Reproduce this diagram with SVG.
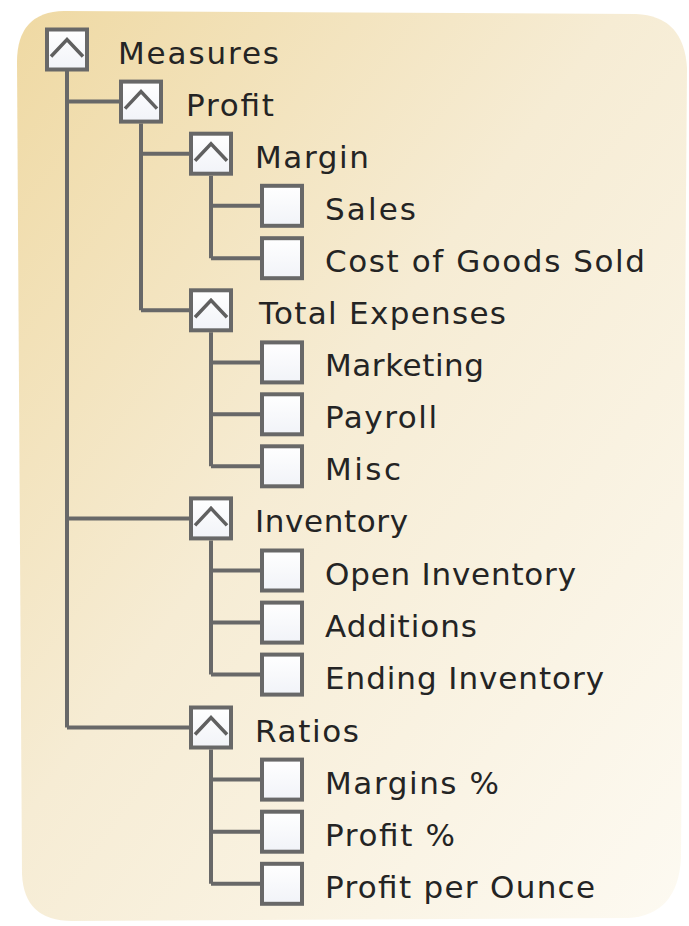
<svg xmlns="http://www.w3.org/2000/svg" width="689" height="926" viewBox="0 0 689 926">
<defs>
<linearGradient id="bg" x1="0" y1="0" x2="1" y2="1">
<stop offset="0" stop-color="#efd9a3"/>
<stop offset="0.45" stop-color="#f6ecd4"/>
<stop offset="1" stop-color="#fdfaf2"/>
</linearGradient>
<linearGradient id="boxfill" x1="0" y1="0" x2="0" y2="1">
<stop offset="0" stop-color="#ffffff"/>
<stop offset="1" stop-color="#f1f3f8"/>
</linearGradient>
<style>
.box{fill:url(#boxfill);stroke:#686868;stroke-width:4}
.chev{fill:none;stroke:#606060;stroke-width:3.5;stroke-linejoin:miter}
.ln{fill:none;stroke:#686868;stroke-width:4}
.t{font-family:"DejaVu Sans","Liberation Sans",sans-serif;font-size:31px;fill:#242424}
</style>
</defs>
<rect width="689" height="926" fill="#ffffff"/>
<path d="M17,62 Q17,12 64,11 L636,14 Q684,16 687,68 L681,858 Q678,915 628,918 L72,921 Q24,921 22,874 Z" fill="url(#bg)"/>
<g id="connectors">
<path class="ln" d="M67,71 V727.5 M67,101.6 H119 M67,518.4 H189 M67,727.5 H189"/>
<path class="ln" d="M141,123.6 V310.3 M141,153.7 H189 M141,310.3 H189"/>
<path class="ln" d="M211,175.7 V258.2 M211,205.8 H260 M211,258.2 H260"/>
<path class="ln" d="M211,332.3 V466.3 M211,362.4 H260 M211,414.3 H260 M211,466.3 H260"/>
<path class="ln" d="M211,540.4 V674.6 M211,570.5 H260 M211,622.6 H260 M211,674.6 H260"/>
<path class="ln" d="M211,749.5 V883.8 M211,779.6 H260 M211,831.7 H260 M211,883.8 H260"/>
</g>
<g id="measures"><rect class="box" x="47" y="29.5" width="40" height="40"/><path class="chev" d="M51,56.5 L67,39.5 L83,56.5"/><text class="t" x="118" y="63.5" textLength="161">Measures</text></g>
<g id="profit"><rect class="box" x="121" y="81.6" width="40" height="40"/><path class="chev" d="M125,108.6 L141,91.6 L157,108.6"/><text class="t" x="186" y="115.6" textLength="88">Profit</text></g>
<g id="margin"><rect class="box" x="191" y="133.7" width="40" height="40"/><path class="chev" d="M195,160.7 L211,143.7 L227,160.7"/><text class="t" x="255" y="167.7" textLength="114">Margin</text></g>
<g id="sales"><rect class="box" x="262" y="185.8" width="40" height="40"/><text class="t" x="325" y="219.8" textLength="91">Sales</text></g>
<g id="cogs"><rect class="box" x="262" y="238.2" width="40" height="40"/><text class="t" x="325" y="272.2" textLength="320">Cost of Goods Sold</text></g>
<g id="total-expenses"><rect class="box" x="191" y="290.3" width="40" height="40"/><path class="chev" d="M195,317.3 L211,300.3 L227,317.3"/><text class="t" x="259" y="324.3" textLength="247">Total Expenses</text></g>
<g id="marketing"><rect class="box" x="262" y="342.4" width="40" height="40"/><text class="t" x="325" y="376.4" textLength="159">Marketing</text></g>
<g id="payroll"><rect class="box" x="262" y="394.3" width="40" height="40"/><text class="t" x="325" y="428.3" textLength="112">Payroll</text></g>
<g id="misc"><rect class="box" x="262" y="446.3" width="40" height="40"/><text class="t" x="325" y="480.3" textLength="76">Misc</text></g>
<g id="inventory"><rect class="box" x="191" y="498.4" width="40" height="40"/><path class="chev" d="M195,525.4 L211,508.4 L227,525.4"/><text class="t" x="255" y="532.4" textLength="153">Inventory</text></g>
<g id="open-inventory"><rect class="box" x="262" y="550.5" width="40" height="40"/><text class="t" x="325" y="584.5" textLength="251">Open Inventory</text></g>
<g id="additions"><rect class="box" x="262" y="602.6" width="40" height="40"/><text class="t" x="325" y="636.6" textLength="152">Additions</text></g>
<g id="ending-inventory"><rect class="box" x="262" y="654.6" width="40" height="40"/><text class="t" x="325" y="688.6" textLength="279">Ending Inventory</text></g>
<g id="ratios"><rect class="box" x="191" y="707.5" width="40" height="40"/><path class="chev" d="M195,734.5 L211,717.5 L227,734.5"/><text class="t" x="255" y="741.5" textLength="104">Ratios</text></g>
<g id="margins-pct"><rect class="box" x="262" y="759.6" width="40" height="40"/><text class="t" x="325" y="793.6" textLength="174">Margins %</text></g>
<g id="profit-pct"><rect class="box" x="262" y="811.7" width="40" height="40"/><text class="t" x="325" y="845.7" textLength="130">Profit %</text></g>
<g id="profit-per-ounce"><rect class="box" x="262" y="863.8" width="40" height="40"/><text class="t" x="325" y="897.8" textLength="270">Profit per Ounce</text></g>
</svg>
